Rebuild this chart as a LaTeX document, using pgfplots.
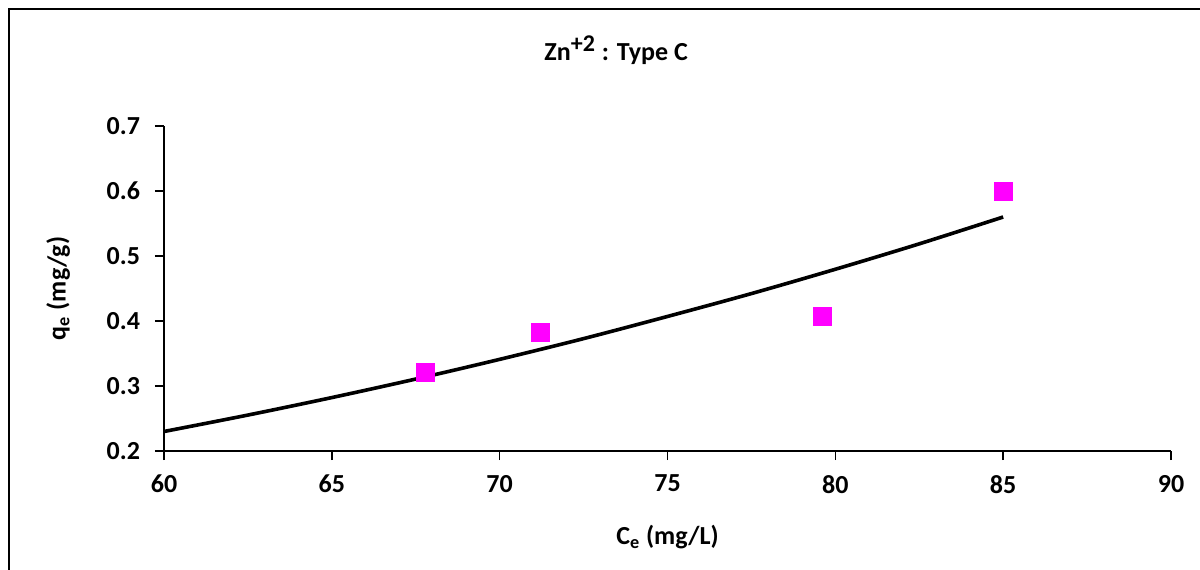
\documentclass[border=0pt]{standalone}
\usepackage{fontspec}
\setmainfont{Carlito}
\usepackage{pgfplots}
\pgfplotsset{compat=1.18}
\definecolor{ptmag}{RGB}{255,0,255}

\begin{document}
\begin{tikzpicture}
\useasboundingbox (0,0) rectangle (600pt,284.5pt);
% chart frame (right and bottom edges fall outside the picture)
\draw[line width=1pt] (4.5pt,-5pt) -- (4.5pt,280pt) -- (610pt,280pt);
\begin{axis}[
    at={(82pt,59pt)}, anchor=south west,
    scale only axis,
    width=503.5pt, height=162.5pt,
    xmin=60, xmax=90, ymin=0.2, ymax=0.7,
    xtick={60,65,...,90},
    ytick={0.2,0.3,...,0.7},
    axis x line*=bottom, axis y line*=left,
    axis line style={line width=0.8pt},
    tick style={line width=0.8pt, black},
    tick align=outside,
    major tick length=4.5pt,
    font=\bfseries\fontsize{13}{15}\selectfont,
    /pgf/number format/assume math mode=true,
    yticklabel style={/pgf/number format/fixed, /pgf/number format/precision=1, /pgf/number format/fixed zerofill, xshift=-4pt},
    xticklabel style={yshift=-4pt},
    title={Zn\textsuperscript{\fontsize{12}{12}\selectfont+2} : Type C},
    title style={at={(axis description cs:0.449,1.197)}, anchor=center},
    xlabel={C\textsubscript{e} (mg/L)},
    xlabel style={at={(axis description cs:0.5,-0.265)}, anchor=center},
    ylabel={q\textsubscript{e} (mg/g)},
    ylabel style={at={(axis description cs:-0.105,0.5)}, anchor=center},
    clip=false,
]
% fitted isotherm
\addplot[black, line width=1.8pt, smooth] coordinates {
    (60,0.230) (62.5,0.2553) (65,0.2822) (67.5,0.3107) (70,0.3410)
    (72.5,0.3729) (75,0.407) (77.5,0.4422) (80,0.4796) (82.5,0.5187) (85,0.560)
};
% experimental data
\addplot[only marks, mark=square*, mark size=4.5pt, ptmag, mark options={draw=ptmag, fill=ptmag}] coordinates {
    (67.8,0.321) (71.2,0.383) (79.6,0.407) (85.0,0.599)
};
\end{axis}
\end{tikzpicture}
\end{document}
